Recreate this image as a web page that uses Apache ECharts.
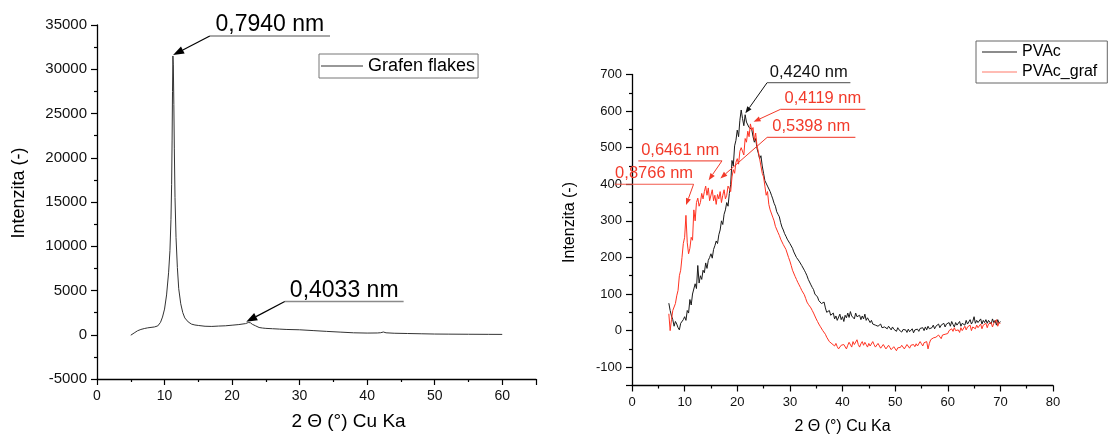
<!DOCTYPE html>
<html><head><meta charset="utf-8">
<script src="https://cdn.jsdelivr.net/npm/echarts@6/dist/echarts.min.js"></script>
<style>html,body{margin:0;padding:0;background:#fff}#c{width:1110px;height:434px}</style>
</head><body><div id="c"></div>
<script>
const FONT = '"Liberation Sans", Arial, Helvetica, sans-serif';

// ---- Left chart: Grafen flakes (2θ, intensity) ----
const grafenX = [5.0,5.5,6.0,6.5,7.0,7.5,8.0,8.5,9.0,9.4,9.7,10.0,10.3,10.6,10.8,10.95,11.05,11.12,11.18,11.24,11.3,11.38,11.45,11.55,11.7,11.9,12.1,12.4,12.7,13.0,13.5,14.0,14.5,15.0,16.0,17.0,18.0,19.0,20.0,21.0,22.0,22.4,22.7,23.0,23.5,24.0,24.5,25.0,26.0,27.0,28.0,30.0,32.0,34.0,36.0,38.0,40.0,41.5,42.0,42.4,42.8,44.0,46.0,48.0,50.0,52.0,55.0,58.0,60.0];
const grafenY = [-50,200,450,600,700,780,830,880,1000,1400,2000,2900,4500,7000,9500,13000,17000,22000,27500,31500,30500,26000,21000,15500,11000,7600,5200,3500,2500,1900,1450,1200,1100,1050,960,940,980,1010,1080,1150,1260,1380,1360,1180,1000,820,760,720,680,640,600,560,470,380,300,220,190,200,230,310,220,170,140,110,80,70,55,45,40];

// ---- Right chart: PVAc / PVAc_graf, sampled every 0.25° from 7° ----
const pvacStart = 7, pvacStep = 0.25;
const pvacY = [
 75,55,40,30, 12,25,18,8, 2,20,15,30, 38,28,55,48, 85,70,100,95,
 128,115,178,130, 150,140,165,158, 185,170,192,200, 210,198,222,232, 245,238,262,275,
 300,290,318,330, 350,340,375,400, 465,450,505,520, 548,530,575,603, 580,560,590,570,
 571,555,560,550, 530,515,525,498, 485,470,478,450, 430,410,415,395, 400,380,370,360,
 348,340,325,318, 311,295,283,275, 265,258,250,245, 238,242,225,215, 212,200,205,190,
 188,178,183,165, 158,150,140,145, 125,118,112,100, 105,92,82,85, 74,70,78,62,
 50,46,55,42, 38,48,32,40, 28,32,45,30, 38,25,42,35, 48,36,52,40,
 45,32,48,38, 35,42,30,40, 32,45,28,35, 30,22,28,18, 22,15,20,12,
 14,18,8,12, 10,15,5,12, 8,2,10,4, 6,-2,8,2, 5,-4,3,0,
 2,-5,4,-3, -2,5,-6,2, -3,4,-2,6, 2,8,0,10, 2,12,5,0,
 8,15,5,12, 11,18,8,15, 13,20,10,18, 15,22,12,25, 17,10,22,15,
 18,25,12,20, 22,15,28,18, 22,30,18,25, 38,20,28,22, 25,32,18,28,
 22,30,20,28, 25,18,32,22, 28,15,30,20, 25];
const pvacGrafY = [
 46,0,30,55, 60,74,95,110, 150,165,200,238, 255,315,240,210, 225,255,247,330,
 300,350,362,340, 350,375,360,380, 395,370,390,355, 360,385,355,370, 345,372,360,380,
 350,370,385,360, 370,395,400,380, 420,440,430,460, 470,455,490,500, 505,480,525,515,
 545,530,565,548, 555,520,540,505, 490,470,450,430, 420,395,370,380, 345,330,325,310,
 300,285,285,268, 260,250,245,235, 230,222,219,200, 190,178,165,160, 148,140,132,125,
 118,110,105,98, 88,78,72,70, 62,55,48,40, 32,25,18,12, 8,0,-5,-10,
 -18,-22,-30,-28, -36,-40,-42,-35, -44,-50,-48,-40, -45,-38,-42,-50, -40,-32,-35,-45,
 -30,-38,-35,-25, -38,-45,-36,-30, -40,-32,-38,-45, -35,-42,-40,-30, -38,-45,-42,-35,
 -40,-48,-44,-38, -42,-50,-45,-40, -46,-52,-50,-44, -48,-55,-47,-50, -46,-40,-44,-50,
 -45,-38,-42,-48, -40,-35,-38,-44, -36,-42,-38,-30, -36,-42,-33,-28, -30,-50,-35,-25,
 -28,-20,-22,-18, -20,-12,-15,-22, -12,-8,-10,-15, -8,0,-5,5, -2,8,0,5,
 2,-5,8,0, 5,12,2,10, 6,15,0,10, 12,5,15,8, 11,18,5,15,
 12,20,8,18, 15,22,10,20, 18,30,12,22, 20];

// ---- Annotations (data coordinates: underline x0, x1, y; arrow tip) ----
const leftNotes = [
  {text:'0,7940 nm', u:[16.7, 34.5, 33750], tip:[11.26, 31600], from:0, color:'#000', uColor:'#8a8a8a'},
  {text:'0,4033 nm', u:[27.8, 45.4, 3750],  tip:[22.1, 1475],   from:0, color:'#000', uColor:'#8a8a8a'}
];
const rightNotes = [
  {text:'0,4240 nm', u:[25.67, 41.5, 677.6], tip:[21.54, 593.8], from:0, color:'#111', uColor:'#6e6e6e'},
  {text:'0,4119 nm', u:[28.2, 44.35, 604.7], tip:[23.1, 570.8],  from:0, color:'#f23a2a', uColor:'#f25a4c'},
  {text:'0,5398 nm', u:[25.67, 42.45, 528],  tip:[16.79, 416],   from:0, color:'#f23a2a', uColor:'#f25a4c'},
  {text:'0,6461 nm', u:[1.2, 17.1, 464],     tip:[14.56, 411],   from:1, color:'#f23a2a', uColor:'#f25a4c'},
  {text:'0,8766 nm', u:[-3.3, 11.7, 400],    tip:[10.27, 343],   from:1, color:'#f23a2a', uColor:'#f25a4c'}
];

const pvacData = pvacY.map((v, i) => [pvacStart + i * pvacStep, v]);
const pvacGrafData = pvacGrafY.map((v, i) => [pvacStart + i * pvacStep, v]);
const grafenData = grafenX.map((x, i) => [x, grafenY[i]]);

function axisCommon(labelSize) {
  return {
    axisLine: {onZero: false, lineStyle: {color: '#000', width: 1.3}},
    axisTick: {show: true, length: 6, lineStyle: {color: '#000', width: 1.2}},
    minorTick: {show: true, splitNumber: 2, length: 3, lineStyle: {color: '#000', width: 1.2}},
    splitLine: {show: false},
    axisLabel: {color: '#111', fontFamily: FONT, fontSize: labelSize, margin: 10,
                formatter: v => String(v)}
  };
}

const chart = echarts.init(document.getElementById('c'), null, {renderer: 'canvas'});
const option = {
  animation: false,
  backgroundColor: '#fff',
  grid: [
    {left: 97, top: 25, width: 439, height: 354, containLabel: false, outerBoundsMode: 'none'},
    {left: 632, top: 74.5, width: 421, height: 311, containLabel: false, outerBoundsMode: 'none'}
  ],
  xAxis: [
    Object.assign(axisCommon(14), {
      type: 'value', gridIndex: 0, min: 0, max: 65, interval: 10,
      name: '2 Θ (°) Cu Ka', nameLocation: 'middle', nameGap: 33,
      nameTextStyle: {fontFamily: FONT, fontSize: 19, color: '#000', padding: [0, 0, 0, 64]}
    }),
    Object.assign(axisCommon(13), {
      type: 'value', gridIndex: 1, min: 0, max: 80, interval: 10,
      name: '2 Θ (°) Cu Ka', nameLocation: 'middle', nameGap: 33,
      nameTextStyle: {fontFamily: FONT, fontSize: 16, color: '#000'}
    })
  ],
  yAxis: [
    Object.assign(axisCommon(15), {
      type: 'value', gridIndex: 0, min: -5000, max: 35000, interval: 5000,
      name: 'Intenzita (-)', nameLocation: 'middle', nameGap: 69,
      nameTextStyle: {fontFamily: FONT, fontSize: 18, color: '#000', padding: [0, 0, 0, 18]}
    }),
    Object.assign(axisCommon(13), {
      type: 'value', gridIndex: 1, min: -150, max: 700, splitNumber: 8,
      name: 'Intenzita (-)', nameLocation: 'middle', nameGap: 54,
      nameTextStyle: {fontFamily: FONT, fontSize: 16, color: '#000', padding: [0, 0, 0, 15]}
    })
  ],
  legend: [
    {
      data: [{name: 'Grafen flakes', icon: 'rect'}], left: 319, top: 54, orient: 'vertical',
      padding: [3, 3, 3, 2], itemWidth: 42, itemHeight: 1,
      borderColor: '#777', borderWidth: 1, borderRadius: 0,
      textStyle: {fontFamily: FONT, fontSize: 18, color: '#000'}
    },
    {
      data: [{name: 'PVAc', icon: 'rect'}, {name: 'PVAc_graf', icon: 'rect'}], left: 976, top: 41, orient: 'vertical',
      padding: [3, 10, 3, 6], itemWidth: 35, itemHeight: 1, itemGap: 4,
      borderColor: '#666', borderWidth: 1, borderRadius: 0,
      textStyle: {fontFamily: FONT, fontSize: 16, color: '#000'}
    }
  ],
  series: [
    {name: 'Grafen flakes', type: 'line', xAxisIndex: 0, yAxisIndex: 0, data: grafenData,
     symbol: 'none', showSymbol: false, smooth: false, lineStyle: {color: '#333', width: 1}, itemStyle: {color: '#333'}},
    {name: 'PVAc', type: 'line', xAxisIndex: 1, yAxisIndex: 1, data: pvacData,
     symbol: 'none', showSymbol: false, lineStyle: {color: '#1a1a1a', width: 1}, itemStyle: {color: '#1a1a1a'}},
    {name: 'PVAc_graf', type: 'line', xAxisIndex: 1, yAxisIndex: 1, data: pvacGrafData,
     symbol: 'none', showSymbol: false, lineStyle: {color: '#ff3322', width: 1}, itemStyle: {color: '#ff7a6a'}, z: 3}
  ]
};
option.yAxis[1].axisLabel.showMinLabel = false;
option.xAxis[0].axisLabel.showMaxLabel = false;
chart.setOption(option);

function buildNotes(gridIndex, notes, st) {
  const els = [];
  notes.forEach(n => {
    const p0 = chart.convertToPixel({gridIndex: gridIndex}, [n.u[0], n.u[2]]);
    const p1 = chart.convertToPixel({gridIndex: gridIndex}, [n.u[1], n.u[2]]);
    const tip = chart.convertToPixel({gridIndex: gridIndex}, n.tip);
    const start = n.from === 0 ? p0 : p1;
    els.push({type: 'line', silent: true, z: 10,
      shape: {x1: p0[0], y1: p0[1], x2: p1[0], y2: p1[1]},
      style: {stroke: n.uColor, lineWidth: st.uW}});
    const dx = tip[0] - start[0], dy = tip[1] - start[1];
    const len = Math.hypot(dx, dy), ux = dx / len, uy = dy / len;
    const bx = tip[0] - ux * st.headLen, by = tip[1] - uy * st.headLen;
    els.push({type: 'line', silent: true, z: 10,
      shape: {x1: start[0], y1: start[1], x2: bx, y2: by},
      style: {stroke: n.color, lineWidth: st.shaftW}});
    els.push({type: 'polygon', silent: true, z: 10,
      shape: {points: [[tip[0], tip[1]], [bx - uy * st.headW, by + ux * st.headW], [bx + uy * st.headW, by - ux * st.headW]]},
      style: {fill: n.color}});
    els.push({type: 'text', silent: true, z: 10,
      x: (p0[0] + p1[0]) / 2, y: p0[1] - st.textGap,
      style: {text: n.text, fill: n.color, fontFamily: FONT, fontSize: st.fontSize, align: 'center', verticalAlign: 'middle'}});
  });
  return els;
}

const graphics = buildNotes(0, leftNotes, {uW: 1.6, shaftW: 1.2, headLen: 11, headW: 4, textGap: 11, fontSize: 23})
  .concat(buildNotes(1, rightNotes, {uW: 1.2, shaftW: 1, headLen: 7, headW: 2.6, textGap: 10.5, fontSize: 16.5}));
chart.setOption({graphic: {elements: graphics}});
</script>
</body></html>
